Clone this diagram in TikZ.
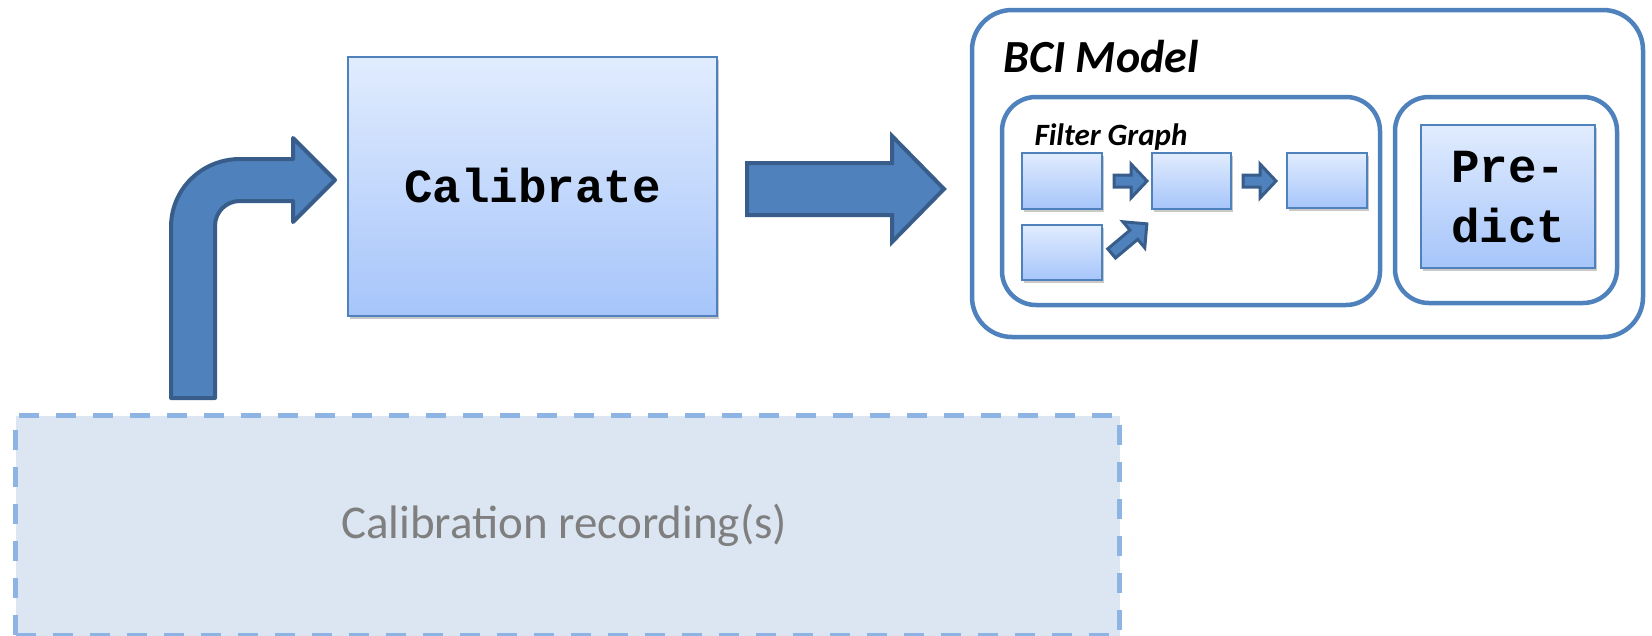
\documentclass[tikz,border=0pt]{standalone}
\usepackage{fontspec}
\setmainfont{Carlito}
\newfontfamily\monob{Liberation Mono}
\usetikzlibrary{shadows}
\definecolor{accent}{HTML}{4F81BD}
\definecolor{arrowline}{HTML}{385D8A}
\definecolor{gradtop}{HTML}{E1ECFE}
\definecolor{gradbot}{HTML}{A6C5FA}
\definecolor{recfill}{HTML}{DCE6F2}
\definecolor{recline}{HTML}{8DB4E2}
\definecolor{rectext}{HTML}{7F7F7F}
\tikzset{
  gradbox/.style={draw=accent, line width=2pt, top color=gradtop, bottom color=gradbot,
    inner sep=0pt, outer sep=0pt,
    drop shadow={shadow xshift=2pt, shadow yshift=-3pt, opacity=0.3, fill=black!70}},
  container/.style={draw=accent, line width=4.5pt, rounded corners=40pt, inner sep=0pt, outer sep=0pt},
  blockarrow/.style={fill=accent, draw=arrowline, line width=4pt, line join=miter},
  smallarrow/.style={fill=accent, draw=arrowline, line width=3pt, line join=miter},
  codetext/.style={font=\monob\bfseries\fontsize{47.5}{60}\selectfont, align=center},
}
\begin{document}
\begin{tikzpicture}[x=1pt,y=-1pt]
\useasboundingbox (0,0) rectangle (1652,635);

% calibration recordings
\node[fill=recfill, draw=recline, line width=5pt, dash pattern=on 20pt off 17pt,
      minimum width=1104pt, minimum height=220pt, inner sep=0pt, anchor=north west]
      (rec) at (13,413) {};
\node[text=rectext, font=\fontsize{47}{56}\selectfont] (rectxt) at (564,525) {Calibration recording(s)};

% bent arrow
\draw[blockarrow, line join=round] (171,398) -- (171,227)
  .. controls (171,189) and (202,159) .. (240,159)
  -- (293,159) -- (293,138) -- (335,180) -- (293,222) -- (293,201) -- (240,201)
  .. controls (226,201) and (215,212) .. (215,226) -- (215,398) -- cycle;

% calibrate
\node[gradbox, minimum width=369pt, minimum height=259pt] (cal) at (532.5,186.5) {};
\node[codetext] (caltxt) at (532.5,186) {Calibrate};

% big arrow
\draw[blockarrow] (747,163) -- (892,163) -- (892,136) -- (944,189) -- (892,242)
  -- (892,215) -- (747,215) -- cycle;

% BCI model containers
\node[container, minimum width=671pt, minimum height=327pt] (bci) at (1307.5,173.5) {};
\node[font=\bfseries\itshape\fontsize{46}{55}\selectfont, anchor=base west] (bcitxt) at (1000,72) {BCI Model};
\node[container, rounded corners=34pt, minimum width=378pt, minimum height=208pt] (fg) at (1191,201) {};
\node[font=\bfseries\itshape\fontsize{31}{37}\selectfont, anchor=base west] (fgtxt) at (1031,145) {Filter Graph};
\node[container, rounded corners=34pt, minimum width=222pt, minimum height=206pt] (pb) at (1506,200) {};

% filter boxes
\node[gradbox, minimum width=80pt, minimum height=56pt] (b1) at (1062,181) {};
\node[gradbox, minimum width=80pt, minimum height=55pt] (b2) at (1062,252.5) {};
\node[gradbox, minimum width=79pt, minimum height=56pt] (b3) at (1191.5,181) {};
\node[gradbox, minimum width=80pt, minimum height=55pt] (b4) at (1327,180.5) {};

% small arrows
\draw[smallarrow] (1114,175) -- (1131,175) -- (1131,164) -- (1147,181) -- (1131,198)
  -- (1131,187) -- (1114,187) -- cycle;
\draw[smallarrow] (1243,175) -- (1260,175) -- (1260,164) -- (1276,181) -- (1260,198)
  -- (1260,187) -- (1243,187) -- cycle;
\begin{scope}[shift={(1130,238)}, rotate=40]
\draw[smallarrow] (-24,-6) -- (5,-6) -- (5,-17) -- (22,0) -- (5,17)
  -- (5,6) -- (-24,6) -- cycle;
\end{scope}

% predict
\node[gradbox, minimum width=174pt, minimum height=143pt] (pred) at (1508,196.5) {};
\node[codetext] (predtxt) at (1508,197) {Pre-\\dict};
\end{tikzpicture}
\end{document}
